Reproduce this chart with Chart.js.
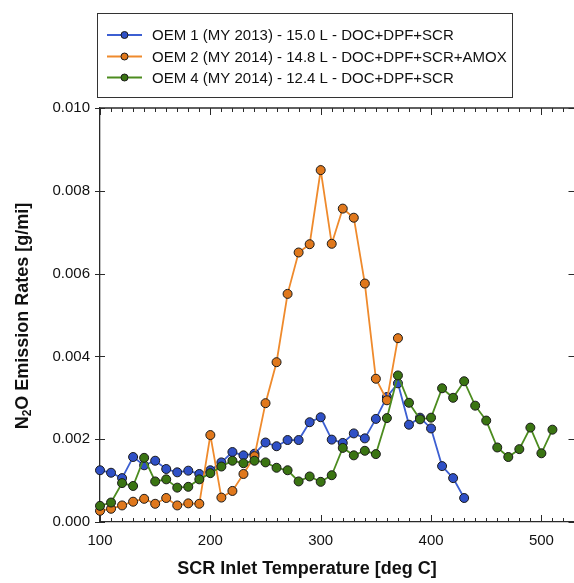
<!DOCTYPE html>
<html>
<head>
<meta charset="utf-8">
<script src="https://cdn.jsdelivr.net/npm/chart.js@4/dist/chart.umd.min.js"></script>
<style>
  html, body { margin: 0; padding: 0; background: #fff; overflow: hidden; }
  #wrap { width: 580px; height: 583px; position: relative; }
</style>
</head>
<body>
<div id="wrap"><canvas id="n2oChart" width="580" height="583"></canvas></div>
<script>
// SCR inlet temperatures [deg C]
const tempOem1 = [100, 110, 120, 130, 140, 150, 160, 170, 180, 190, 200, 210, 220, 230, 240, 250, 260,
                  270, 280, 290, 300, 310, 320, 330, 340, 350, 360, 370, 380, 390, 400, 410, 420, 430];
const tempOem2 = [100, 110, 120, 130, 140, 150, 160, 170, 180, 190, 200, 210, 220, 230, 240, 250, 260,
                  270, 280, 290, 300, 310, 320, 330, 340, 350, 360, 370];
const tempOem4 = [100, 110, 120, 130, 140, 150, 160, 170, 180, 190, 200, 210, 220, 230, 240, 250, 260,
                  270, 280, 290, 300, 310, 320, 330, 340, 350, 360, 370, 380, 390, 400, 410, 420, 430,
                  440, 450, 460, 470, 480, 490, 500, 510];

// N2O emission rates [g/mi]
const n2oOem1 = [0.00125, 0.00119, 0.00106, 0.00157, 0.00137, 0.00148, 0.00128, 0.00120, 0.00124, 0.00116,
                 0.00125, 0.00144, 0.00169, 0.00161, 0.00165, 0.00192, 0.00183, 0.00198, 0.00198, 0.00241,
                 0.00253, 0.00199, 0.00191, 0.00214, 0.00202, 0.00249, 0.00302, 0.00335, 0.00235, 0.00252,
                 0.00226, 0.00135, 0.00106, 0.00058];
const n2oOem2 = [0.00027, 0.00032, 0.00040, 0.00049, 0.00056, 0.00044, 0.00058, 0.00040, 0.00045, 0.00044,
                 0.00210, 0.00059, 0.00075, 0.00116, 0.00159, 0.00287, 0.00386, 0.00551, 0.00651, 0.00671,
                 0.00850, 0.00672, 0.00757, 0.00735, 0.00576, 0.00346, 0.00294, 0.00444];
const n2oOem4 = [0.00039, 0.00047, 0.00094, 0.00087, 0.00155, 0.00098, 0.00103, 0.00083, 0.00085, 0.00103,
                 0.00118, 0.00134, 0.00148, 0.00142, 0.00148, 0.00144, 0.00131, 0.00125, 0.00098, 0.00110,
                 0.00097, 0.00113, 0.00179, 0.00161, 0.00172, 0.00164, 0.00251, 0.00354, 0.00288, 0.00248,
                 0.00252, 0.00323, 0.00300, 0.00340, 0.00281, 0.00245, 0.00180, 0.00157, 0.00176, 0.00228,
                 0.00166, 0.00223];

const seriesLabels = [
  'OEM 1 (MY 2013) - 15.0 L - DOC+DPF+SCR',
  'OEM 2 (MY 2014) - 14.8 L - DOC+DPF+SCR+AMOX',
  'OEM 4 (MY 2014) - 12.4 L - DOC+DPF+SCR'
];

const xTicks = [100, 200, 300, 400, 500];
const yTicks = [0, 0.002, 0.004, 0.006, 0.008, 0.010];

const FONT = "Arial, 'Liberation Sans', sans-serif";
const AXIS = '#2a2a2a';

function pairs(xs, ys) {
  return xs.map((x, i) => ({ x: x, y: ys[i] }));
}

function series(label, xs, ys, line, fill, order) {
  return {
    label: label,
    data: pairs(xs, ys),
    borderColor: line,
    backgroundColor: fill,
    borderWidth: 1.8,
    pointRadius: 4.5,
    pointBackgroundColor: fill,
    pointBorderColor: '#1a1a1a',
    pointBorderWidth: 1,
    tension: 0,
    clip: false,
    order: order
  };
}

// frame, ticks, axis titles and legend box
const decorations = {
  id: 'decorations',
  afterDraw(chart) {
    const ctx = chart.ctx;
    const a = chart.chartArea;
    const xs = chart.scales.x, ys = chart.scales.y;
    ctx.save();
    ctx.strokeStyle = AXIS;
    ctx.lineWidth = 1.3;

    // top frame line
    ctx.beginPath();
    ctx.moveTo(a.left, a.top);
    ctx.lineTo(a.right, a.top);
    ctx.stroke();

    // x ticks (bottom + top), minor every 10
    ctx.lineWidth = 1;
    for (let t = xs.min; t <= xs.max; t += 10) {
      const px = Math.round(xs.getPixelForValue(t)) + 0.5;
      const major = t % 100 === 0;
      const len = major ? 7 : 4;
      ctx.beginPath();
      ctx.moveTo(px, a.bottom);
      ctx.lineTo(px, a.bottom - len);
      ctx.moveTo(px, a.top);
      ctx.lineTo(px, a.top + len);
      ctx.stroke();
    }
    // y ticks (left + right)
    yTicks.forEach(v => {
      const py = Math.round(ys.getPixelForValue(v)) + 0.5;
      ctx.beginPath();
      ctx.moveTo(a.left - 5, py);
      ctx.lineTo(a.left + 5, py);
      ctx.moveTo(a.right, py);
      ctx.lineTo(a.right - 6, py);
      ctx.stroke();
    });

    // x axis title
    ctx.fillStyle = '#111';
    ctx.font = 'bold 18px ' + FONT;
    ctx.textAlign = 'center';
    ctx.textBaseline = 'middle';
    ctx.fillText('SCR Inlet Temperature [deg C]', 307, 569);

    // y axis title with subscript 2
    const big = 'bold 18px ' + FONT, small = 'bold 12px ' + FONT;
    const p1 = 'N', p2 = '2', p3 = 'O Emission Rates [g/mi]';
    ctx.font = big;
    const w1 = ctx.measureText(p1).width, w3 = ctx.measureText(p3).width;
    ctx.font = small;
    const w2 = ctx.measureText(p2).width;
    const total = w1 + w2 + w3;
    ctx.translate(23, 316);
    ctx.rotate(-Math.PI / 2);
    ctx.textAlign = 'left';
    let cx = -total / 2;
    ctx.font = big;
    ctx.fillText(p1, cx, 0);
    cx += w1;
    ctx.font = small;
    ctx.fillText(p2, cx, 5);
    cx += w2;
    ctx.font = big;
    ctx.fillText(p3, cx, 0);
    ctx.setTransform(1, 0, 0, 1, 0, 0);

    // legend
    ctx.strokeStyle = '#333';
    ctx.lineWidth = 1;
    ctx.strokeRect(97.5, 13.5, 415, 84);
    const rows = [35, 56.5, 77.5];
    chart.data.datasets.forEach((ds, i) => {
      const y = rows[i];
      ctx.strokeStyle = ds.borderColor;
      ctx.lineWidth = 1.8;
      ctx.beginPath();
      ctx.moveTo(107, y);
      ctx.lineTo(142, y);
      ctx.stroke();
      ctx.beginPath();
      ctx.arc(124.5, y, 3.5, 0, Math.PI * 2);
      ctx.fillStyle = ds.pointBackgroundColor;
      ctx.fill();
      ctx.strokeStyle = '#1a1a1a';
      ctx.lineWidth = 1;
      ctx.stroke();
      ctx.fillStyle = '#111';
      ctx.font = '15px ' + FONT;
      ctx.textAlign = 'left';
      ctx.textBaseline = 'middle';
      ctx.fillText(ds.label, 152, y + 1);
    });
    ctx.restore();
  }
};

function loadChart() {
  const ctx = document.getElementById('n2oChart').getContext('2d');
  new Chart(ctx, {
    type: 'line',
    data: {
      datasets: [
        series(seriesLabels[0], tempOem1, n2oOem1, '#3c5fd2', '#2f50c6', 2),
        series(seriesLabels[1], tempOem2, n2oOem2, '#ef8a2c', '#e0781c', 1),
        series(seriesLabels[2], tempOem4, n2oOem4, '#4c8c1f', '#3a7412', 0)
      ]
    },
    options: {
      responsive: false,
      animation: false,
      events: [],
      layout: { padding: { left: 0, right: 4, top: 108, bottom: 0 } },
      plugins: { legend: { display: false }, tooltip: { enabled: false } },
      scales: {
        x: {
          type: 'linear',
          min: 100,
          max: 530,
          afterBuildTicks: s => { s.ticks = xTicks.map(v => ({ value: v })); },
          afterFit: s => { s.height = 61; },
          grid: { display: false, drawTicks: false },
          border: { display: true, color: AXIS, width: 1.3 },
          ticks: { color: '#111', font: { family: FONT, size: 15 }, padding: 10, maxRotation: 0,
                   callback: v => String(v) }
        },
        y: {
          type: 'linear',
          min: 0,
          max: 0.010,
          afterBuildTicks: s => { s.ticks = yTicks.map(v => ({ value: v })); },
          afterFit: s => { s.width = 100; },
          grid: { display: false, drawTicks: false },
          border: { display: true, color: AXIS, width: 1.3 },
          ticks: { color: '#111', font: { family: FONT, size: 15 }, padding: 10,
                   callback: v => v.toFixed(3) }
        }
      }
    },
    plugins: [decorations]
  });
}

document.addEventListener('DOMContentLoaded', loadChart);
</script>
</body>
</html>
